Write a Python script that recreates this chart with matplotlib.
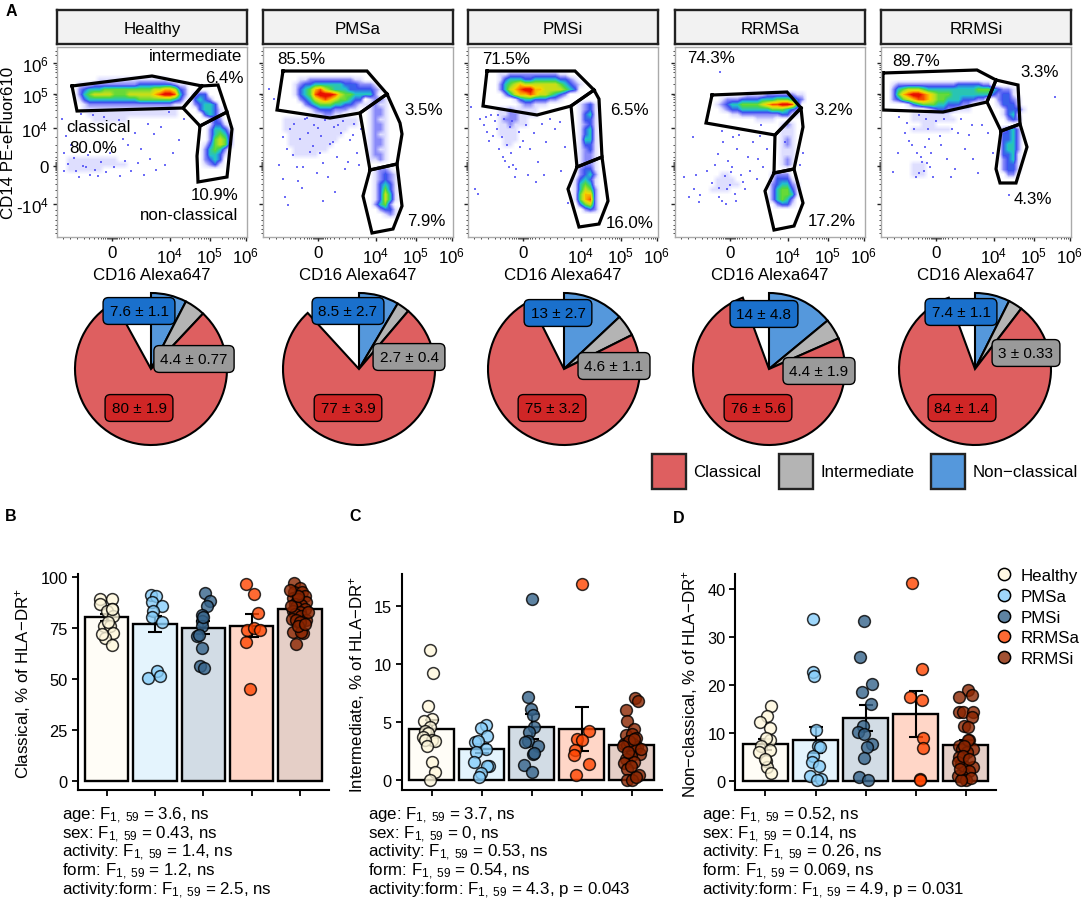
import numpy as np
import matplotlib
matplotlib.use('Agg')
import matplotlib.pyplot as plt
from matplotlib.colors import LinearSegmentedColormap
from matplotlib.lines import Line2D
from matplotlib.patches import Rectangle

plt.rcParams['font.family'] = 'Liberation Sans'
plt.rcParams['mathtext.fontset'] = 'custom'
plt.rcParams['mathtext.rm'] = 'Liberation Sans'
plt.rcParams['mathtext.it'] = 'Liberation Sans'
plt.rcParams['mathtext.bf'] = 'Liberation Sans:bold'
plt.rcParams['mathtext.default'] = 'regular'

W, H = 1084, 904
FS = 12.2

groups = ['Healthy', 'PMSa', 'PMSi', 'RRMSa', 'RRMSi']
group_colors = ['#FFF8DC', '#87CEFA', '#36648B', '#FF4500', '#8B2500']

# flow panels, all in display channels (0-190 on both axes)
x_major = [55, 113, 153, 189]
x_major_labels = ['0', '$10^4$', '$10^5$', '$10^6$']
y_major = [33, 71, 109, 143, 174]
y_major_labels = ['-$10^4$', '0', '$10^4$', '$10^5$', '$10^6$']
x_minor = [6, 13, 20, 27, 32, 37, 41, 44, 46, 48, 50, 51, 52, 53, 54, 56, 57, 58, 59, 60, 62, 64, 67,
           71, 76, 82, 89, 96, 105, 125, 132, 137, 141, 144, 147, 149, 151, 165, 171, 176, 180, 183, 185, 187]
y_minor = [4, 8, 12, 17, 22, 27, 40, 47, 53, 58, 62, 65, 67, 68, 69, 70, 72, 73, 74, 75, 77, 80, 85,
           92, 100, 120, 127, 132, 135, 138, 140, 142, 153, 160, 165, 168, 170, 172, 182, 186]

classical_gates = [
    [(15, 151), (95, 161), (145, 151), (126, 129), (20, 126)],
    [(20, 166), (104, 166), (124, 143), (97, 124), (67, 119), (14, 127)],
    [(19, 166), (107, 166), (126, 147), (103, 131), (69, 122), (15, 131)],
    [(37, 142), (112, 145), (126, 129), (100, 102), (31, 114)],
    [(2, 164), (96, 167), (115, 157), (106, 135), (62, 125), (2, 127)],
]
intermediate_gates = [
    [(145, 151), (161, 152), (170, 125), (143, 111), (126, 129)],
    [(124, 143), (137, 114), (139, 103), (134, 73), (107, 67), (97, 124)],
    [(126, 147), (131, 138), (134, 80), (109, 70), (103, 131)],
    [(126, 129), (128, 110), (119, 68), (99, 64), (100, 102)],
    [(115, 157), (137, 152), (139, 113), (120, 106), (106, 135)],
]
nonclassical_gates = [
    [(143, 111), (170, 125), (175, 108), (170, 60), (141, 55), (140, 81)],
    [(107, 67), (134, 73), (139, 31), (130, 8), (109, 4), (100, 41)],
    [(109, 70), (134, 80), (140, 36), (131, 13), (111, 10), (100, 48)],
    [(99, 64), (119, 68), (128, 34), (119, 11), (99, 7), (90, 46)],
    [(120, 106), (139, 113), (146, 90), (135, 54), (119, 54), (115, 68)],
]

# density: (y channel, first x channel, one level digit per 5 channels)
healthy_density = [
    (155, 40, '11111111111111'),
    (150, 20, '1112222222223333333211'), (145, 20, '2344455555555556677632'),
    (140, 20, '2456666555666667899842'), (135, 20, '1344444444445555555431'),
    (130, 20, '0122222222222222222110'),
    (125, 25, '1111111111111111111'), (120, 30, '111111111111111111'), (115, 35, '1111111'),
    (75, 10, '1111111111'), (70, 10, '111111111111'), (65, 10, '1111111'),
    (140, 135, '233'), (135, 135, '3432'), (130, 135, '23443'), (125, 140, '34431'),
    (120, 145, '3431'), (115, 150, '132'),
    (110, 150, '1331'), (105, 150, '24431'), (100, 150, '24542'), (95, 150, '25652'),
    (90, 145, '135652'), (85, 145, '24542'), (80, 145, '24431'), (75, 145, '2343'), (70, 145, '1231'),
]
pmsa_density = [
    (155, 35, '1122222222211'), (150, 30, '12334444443332221'), (145, 30, '134578654443333321'),
    (140, 30, '13458999865544442'), (135, 35, '2346787655433'), (130, 40, '2345554433211'),
    (125, 45, '1233322211'), (120, 50, '112211'),
    (115, 20, '111111111111111'), (110, 20, '111111111111111'), (105, 20, '1111111111111'),
    (100, 25, '11111111111'), (95, 25, '1111111111'), (90, 25, '111111111'), (85, 30, '1111111'), (80, 30, '11111'),
    (135, 105, '1221'), (130, 105, '1211'), (125, 105, '1221'), (120, 105, '1221'), (115, 105, '1211'),
    (110, 105, '1221'), (105, 105, '1221'), (100, 105, '1211'), (95, 105, '1221'), (90, 105, '1221'),
    (85, 105, '1211'), (80, 105, '1221'), (75, 105, '1121'),
    (65, 110, '1221'), (60, 110, '12321'), (55, 110, '12321'), (50, 110, '13431'), (45, 110, '13531'),
    (40, 110, '13641'), (35, 110, '13641'), (30, 110, '2452'), (25, 115, '2331'), (20, 120, '121'),
]
pmsi_density = [
    (160, 30, '11222222222211'), (155, 30, '1344433444443321'), (150, 30, '24567666666654321'),
    (145, 30, '2467899776666543'), (140, 35, '2467787665432'), (135, 45, '1344333221'), (130, 50, '122111'),
    (125, 30, '11211111'), (120, 30, '11221111'), (115, 30, '122211'), (110, 30, '112111'),
    (105, 30, '1111'), (100, 30, '1111'), (95, 35, '111'), (90, 35, '11'),
    (130, 110, '1231'), (125, 110, '1231'), (120, 110, '1341'), (115, 110, '1331'), (110, 110, '1231'),
    (105, 110, '1341'), (100, 110, '1341'), (95, 110, '1441'), (90, 110, '1331'), (85, 110, '1231'),
    (80, 110, '1221'), (75, 110, '1221'),
    (70, 110, '1221'), (65, 110, '2331'), (60, 110, '2342'), (55, 105, '13431'), (50, 105, '14541'),
    (45, 105, '14652'), (40, 105, '15772'), (35, 105, '15782'), (30, 110, '3562'), (25, 115, '232'),
]
rrmsa_density = [
    (140, 70, '111122222211'), (135, 45, '12223333444555432'), (130, 40, '12344555567889984'),
    (125, 45, '1233444444555432'), (120, 55, '11222222223311'), (115, 80, '1111'),
    (60, 45, '11'), (55, 40, '1111'), (50, 40, '11111'), (45, 35, '1111'),
    (110, 105, '121'), (105, 105, '111'), (100, 105, '111'), (95, 105, '121'), (90, 105, '121'),
    (85, 105, '111'), (80, 105, '111'), (75, 105, '121'), (70, 105, '121'),
    (60, 95, '1222'), (55, 95, '13331'), (50, 95, '234421'), (45, 95, '245531'), (40, 95, '245541'),
    (35, 95, '24542'), (30, 100, '2331'),
]
rrmsi_density = [
    (150, 10, '12222222222223333322'), (145, 10, '2456665444444444455543'),
    (140, 10, '257899876555444444443'), (135, 10, '2356788765544433322'), (130, 25, '1345554433322'),
    (125, 45, '123322111'), (120, 30, '11111111'), (115, 30, '111111111'), (110, 40, '111'), (105, 30, '11111111'),
    (70, 30, '111'), (65, 30, '111'), (60, 30, '111'),
    (145, 115, '1221'), (140, 115, '2331'), (135, 115, '23321'), (130, 115, '13331'), (125, 120, '13331'),
    (120, 120, '1341'), (115, 125, '232'),
    (105, 120, '2342'), (100, 120, '3342'), (95, 120, '3342'), (90, 120, '3442'), (85, 120, '3442'),
    (80, 120, '3341'), (75, 120, '2341'), (70, 120, '2331'), (65, 120, '2331'), (60, 125, '22'),
]
flow_density = [healthy_density, pmsa_density, pmsi_density, rrmsa_density, rrmsi_density]

# stray events outside the main populations
healthy_dots_x = [5, 9, 7, 14, 11, 19, 17, 24, 29, 33, 26, 38, 44, 41, 49, 57, 53, 63, 68, 74, 71, 81, 87, 84, 93, 99, 97, 108, 104, 116, 122, 127, 36, 47, 62, 78, 91, 22, 31, 66, 112, 7]
healthy_dots_y = [118, 101, 84, 92, 73, 66, 79, 123, 70, 62, 71, 67, 75, 61, 65, 70, 84, 61, 76, 66, 92, 74, 62, 88, 78, 67, 103, 72, 110, 84, 97, 118, 122, 120, 117, 104, 113, 60, 82, 98, 125, 66]
pmsa_dots_x = [6, 11, 16, 20, 22, 27, 24, 31, 34, 37, 42, 39, 47, 51, 54, 58, 62, 60, 67, 71, 74, 78, 82, 80, 87, 91, 94, 98, 45, 50, 65, 70, 85, 30, 55, 40, 72, 25, 90, 35, 60, 44, 75, 20, 57, 96]
pmsa_dots_y = [148, 138, 72, 58, 40, 108, 88, 113, 70, 98, 118, 49, 85, 112, 64, 101, 117, 74, 93, 110, 80, 104, 68, 116, 97, 113, 84, 108, 104, 91, 60, 95, 75, 82, 109, 70, 45, 32, 102, 56, 36, 119, 112, 100, 84, 72]
pmsi_dots_x = [3, 7, 12, 16, 19, 23, 21, 27, 31, 29, 34, 36, 39, 37, 42, 45, 43, 48, 51, 55, 58, 62, 66, 70, 74, 78, 82, 87, 93, 97, 100, 47, 41, 35, 25, 10, 60, 68, 92, 76, 52, 18, 30, 44]
pmsi_dots_y = [130, 48, 118, 112, 105, 122, 96, 116, 88, 108, 100, 118, 92, 76, 110, 72, 84, 68, 105, 96, 112, 88, 104, 75, 113, 95, 118, 108, 66, 90, 34, 60, 70, 80, 101, 43, 62, 55, 115, 62, 90, 120, 122, 116]
rrmsa_dots_x = [9, 14, 19, 24, 21, 25, 32, 37, 40, 44, 47, 43, 50, 53, 48, 55, 57, 60, 62, 66, 64, 70, 73, 78, 82, 85, 88, 92, 96, 45, 47, 58, 61, 75, 83, 44, 52, 68, 51, 56, 18, 86, 110, 125, 128]
rrmsa_dots_y = [60, 40, 48, 35, 62, 42, 66, 54, 72, 49, 36, 83, 61, 76, 95, 52, 70, 43, 88, 62, 102, 48, 80, 95, 58, 101, 70, 88, 56, 165, 106, 100, 36, 66, 78, 40, 48, 55, 33, 65, 100, 112, 95, 72, 84]
rrmsi_dots_x = [12, 17, 18, 24, 26, 31, 33, 36, 38, 41, 44, 43, 47, 49, 52, 55, 59, 63, 66, 71, 74, 77, 80, 84, 88, 92, 97, 101, 35, 40, 46, 48, 38, 50, 60, 91, 107, 112, 174, 128, 45, 28, 70]
rrmsi_dots_y = [65, 84, 120, 104, 114, 92, 108, 84, 122, 75, 90, 66, 108, 70, 60, 116, 101, 118, 78, 108, 68, 104, 118, 88, 102, 78, 64, 112, 60, 80, 74, 98, 64, 84, 92, 112, 104, 84, 140, 42, 118, 96, 60]
flow_dots = [(healthy_dots_x, healthy_dots_y), (pmsa_dots_x, pmsa_dots_y), (pmsi_dots_x, pmsi_dots_y),
             (rrmsa_dots_x, rrmsa_dots_y), (rrmsi_dots_x, rrmsi_dots_y)]

flow_texts = [
    [('intermediate', 139, 182), ('6.4%', 167, 160), ('10.9%', 158, 43), ('non-classical', 132, 22),
     ('classical', 41, 111), ('80.0%', 36, 90)],
    [('85.5%', 38, 179), ('3.5%', 161, 128), ('7.9%', 163, 17)],
    [('71.5%', 38, 179), ('6.5%', 161, 128), ('16.0%', 162, 14)],
    [('74.3%', 36, 180), ('3.2%', 159, 128), ('17.2%', 157, 17)],
    [('89.7%', 35, 177), ('3.3%', 159, 166), ('4.3%', 152, 38)],
]

# pies
classical_mean = [80, 77, 75, 76, 84]
intermediate_mean = [4.4, 2.7, 4.6, 4.4, 3]
nonclassical_mean = [7.6, 8.5, 13, 14, 7.4]
classical_se = [1.9, 3.9, 3.2, 5.6, 1.4]
intermediate_se = [0.77, 0.4, 1.1, 1.9, 0.33]
nonclassical_se = [1.1, 2.7, 2.7, 4.8, 1.1]
classical_labels = ['80 ± 1.9', '77 ± 3.9', '75 ± 3.2', '76 ± 5.6', '84 ± 1.4']
intermediate_labels = ['4.4 ± 0.77', '2.7 ± 0.4', '4.6 ± 1.1', '4.4 ± 1.9', '3 ± 0.33']
nonclassical_labels = ['7.6 ± 1.1', '8.5 ± 2.7', '13 ± 2.7', '14 ± 4.8', '7.4 ± 1.1']

# points on the bars: value and horizontal offset from the group centre
b_values = [
    [89, 89, 86.6, 84.2, 83, 80.6, 76, 75.7, 72.2, 70, 66.5, 84, 78, 72],
    [91, 90.7, 87.4, 85.5, 83, 80, 77.6, 50.3, 53.6, 51.1],
    [92, 88, 85.5, 81, 78.3, 75.7, 71, 71.4, 65, 56.4, 55, 80],
    [96.4, 91.5, 82.2, 74, 74.7, 73.9, 67.8, 45],
    [96.9, 94.3, 92.3, 92.6, 90.7, 89.5, 89, 87.4, 86.6, 86.1, 85, 83.3, 84.2, 82.5, 81.7, 80.6, 79.2, 78.9,
     78.9, 77.9, 72.7, 72.4, 72.7, 67, 76, 76.8, 90.7, 93.6, 85.8, 82.5],
]
b_offsets = [
    [-0.13, 0.10, -0.13, 0.11, 0, 0.14, -0.06, 0.06, 0.14, -0.04, 0.11, 0.1, 0.03, -0.1],
    [-0.08, 0.03, -0.07, 0.15, -0.05, -0.07, 0.15, -0.14, 0.04, 0.10],
    [0.03, 0.14, 0.07, -0.02, -0.03, -0.02, -0.14, -0.09, -0.03, -0.07, 0.02, -0.01],
    [-0.12, 0.05, 0.14, -0.10, 0.05, 0.17, -0.12, -0.03],
    [-0.13, 0, -0.13, 0.04, 0.10, -0.14, -0.04, 0.13, -0.11, 0.03, -0.08, -0.14, 0.10, 0, -0.11, 0.03, -0.16,
     -0.08, 0.13, 0, -0.14, 0.06, 0.03, -0.08, -0.04, 0.10, -0.05, -0.21, -0.18, 0.16],
]
c_values = [
    [11.26, 9.28, 6.35, 5.26, 5.06, 4.6, 4.2, 4.1, 3.68, 3.48, 3.39, 3.48, 2.9, 1.58, 0.66, 0],
    [4.74, 4.51, 3.76, 3.25, 3.39, 2.67, 2.44, 1.52, 1.24, 1.24, 0.6, 0.23],
    [15.66, 7.18, 6.12, 5.63, 4.6, 4.11, 3.39, 3.25, 2.96, 2.24, 2.3, 1.32, 0.66],
    [16.95, 4.2, 3.53, 3.48, 2.61, 2.16, 1.38, 0.43],
    [7.07, 6.81, 6.03, 5.11, 4.4, 3.88, 3.97, 3.6, 3.1, 3.05, 3.1, 2.82, 2.53, 2.67, 2.24, 2.1, 1.81, 1.58,
     1.44, 0.95, 0.43, 0, 0, 0.23, 2.67, 3.39, 3.53, 2.96, 1.24, 2.39],
]
c_offsets = [
    [-0.04, 0.03, -0.08, 0, -0.15, -0.03, -0.13, -0.07, -0.18, 0, 0.07, -0.13, -0.10, 0, 0.07, -0.03],
    [0.09, -0.02, 0.10, -0.13, -0.07, 0.08, -0.11, -0.15, 0.15, 0.11, -0.02, -0.05],
    [0, -0.07, -0.01, 0.02, 0.05, -0.06, -0.08, -0.13, 0.12, 0.03, 0.05, -0.15, 0],
    [0, 0.15, -0.09, 0, -0.13, -0.15, 0.14, -0.11],
    [0.07, 0.13, -0.11, -0.10, 0.05, -0.12, 0.01, 0.09, -0.15, -0.09, 0.03, 0.11, 0, 0.07, 0.16, -0.02, -0.12,
     0.05, -0.15, -0.09, 0.15, -0.10, 0, 0.08, 0.18, -0.05, 0.05, -0.18, -0.02, -0.07],
]
d_values = [
    [15.67, 13.58, 12.33, 11.07, 8.56, 8.84, 7.31, 6.48, 5.92, 4.18, 2.79, 1.6, 4.53],
    [33.8, 22.6, 21.9, 10.5, 7.2, 7, 5.1, 4, 3.1, 1, 0.35, 0.14],
    [33.4, 25.8, 20.2, 18.5, 15.9, 11.5, 10.1, 9.7, 7.7, 7, 4.8, 0.84, 0.2],
    [41.2, 23.3, 17.4, 16.9, 9, 6.8, 0.35, 0.2],
    [19, 17.9, 17.5, 14.3, 14.3, 14.3, 13.2, 11.4, 11.1, 8.4, 7.2, 6.6, 6.6, 5.9, 4.9, 3.5, 3.1, 2.8, 2.1, 1,
     0.7, 0.14, 0.5, 0.14, 8.4, 7.3, 3.8, 5.2, 4.5, 2.4],
]
d_offsets = [
    [0.11, 0.03, -0.11, 0.09, 0.09, 0.01, -0.09, 0.09, -0.13, 0.01, 0.04, 0.11, 0],
    [-0.05, -0.06, -0.03, 0.01, 0.04, 0.09, -0.05, -0.07, 0.07, -0.11, 0.11, 0.03],
    [-0.03, -0.11, 0.13, -0.08, 0.10, -0.06, -0.15, -0.03, 0.13, 0.03, -0.03, -0.13, 0.05],
    [-0.07, 0.13, -0.11, 0.13, 0.15, 0.15, 0.09, 0.09],
    [0.05, 0.13, -0.13, -0.14, -0.05, 0.14, 0.13, -0.04, 0.04, 0.07, -0.14, 0.14, -0.07, 0.02, -0.13, -0.09,
     -0.04, 0.14, 0.07, -0.16, -0.05, 0.01, 0.11, -0.09, 0.04, -0.03, -0.16, -0.06, 0.07, -0.11],
]

b_stats = ['age: F$_{1,\\ 59}$ = 3.6, ns', 'sex: F$_{1,\\ 59}$ = 0.43, ns', 'activity: F$_{1,\\ 59}$ = 1.4, ns',
           'form: F$_{1,\\ 59}$ = 1.2, ns', 'activity:form: F$_{1,\\ 59}$ = 2.5, ns']
c_stats = ['age: F$_{1,\\ 59}$ = 3.7, ns', 'sex: F$_{1,\\ 59}$ = 0, ns', 'activity: F$_{1,\\ 59}$ = 0.53, ns',
           'form: F$_{1,\\ 59}$ = 0.54, ns', 'activity:form: F$_{1,\\ 59}$ = 4.3, p = 0.043']
d_stats = ['age: F$_{1,\\ 59}$ = 0.52, ns', 'sex: F$_{1,\\ 59}$ = 0.14, ns', 'activity: F$_{1,\\ 59}$ = 0.26, ns',
           'form: F$_{1,\\ 59}$ = 0.069, ns', 'activity:form: F$_{1,\\ 59}$ = 4.9, p = 0.031']

fig = plt.figure(figsize=(W / 100, H / 100), dpi=100)


def px_axes(left, top, right, bottom):
    return fig.add_axes([left / W, 1 - bottom / H, (right - left) / W, (bottom - top) / H])


flow_cmap = LinearSegmentedColormap.from_list('flow', ['#FFFFFF', '#E0E0FF', '#9090FA', '#3C50F0', '#20C0D0',
                                                       '#50D840', '#B8E020', '#F5D800', '#FF7A00', '#E81000'])
flow_left = [57, 263, 468, 675, 881]

for i, name in enumerate(groups):
    left = flow_left[i]
    strip = px_axes(left, 11, left + 190, 45)
    strip.set_facecolor('#F2F2F2')
    strip.set_xticks([])
    strip.set_yticks([])
    for s in strip.spines.values():
        s.set_linewidth(1.7)
        s.set_color('#222222')
    strip.text(0.5, 0.47, name, ha='center', va='center', fontsize=FS, transform=strip.transAxes)

    ax = px_axes(left, 48, left + 190, 238)
    grid = np.zeros((38, 38))
    for y, x0, digits in flow_density[i]:
        for j, d in enumerate(digits):
            grid[y // 5, x0 // 5 + j] = max(grid[y // 5, x0 // 5 + j], int(d))
    ax.imshow(grid, origin='lower', extent=(0, 190, 0, 190), cmap=flow_cmap, vmin=0, vmax=8.6,
              interpolation='bilinear', aspect='auto')
    ax.scatter(flow_dots[i][0], flow_dots[i][1], s=1.8, marker='s', color='#4848F5', linewidths=0, alpha=0.8)
    for gate in (classical_gates[i], intermediate_gates[i], nonclassical_gates[i]):
        xs = [p[0] for p in gate] + [gate[0][0]]
        ys = [p[1] for p in gate] + [gate[0][1]]
        ax.plot(xs, ys, color='black', lw=2.3, solid_joinstyle='miter', clip_on=False)
    for label, tx, ty in flow_texts[i]:
        ax.text(tx, ty, label, ha='center', va='center', fontsize=FS, clip_on=False)
    ax.set_xlim(0, 190)
    ax.set_ylim(0, 190)
    for s in ax.spines.values():
        s.set_color('#AAAAAA')
        s.set_linewidth(1)
    ax.set_xticks(x_major)
    ax.set_xticklabels(x_major_labels, fontsize=FS)
    ax.set_xticks(x_minor, minor=True)
    ax.set_yticks(y_major)
    ax.set_yticks(y_minor, minor=True)
    ax.tick_params(axis='both', which='major', length=3, width=1, color='#222222', pad=3)
    ax.tick_params(axis='both', which='minor', length=1.6, width=0.7, color='#444444')
    if i == 0:
        ax.set_yticklabels(y_major_labels, fontsize=FS)
    else:
        ax.set_yticklabels([])
    ax.set_xlabel('CD16 Alexa647', fontsize=FS, labelpad=1)

    # pie
    cx = [151, 359, 564, 769, 975][i]
    pie_ax = px_axes(cx - 78, 370 - 78, cx + 78, 370 + 78)
    pie_values = [nonclassical_mean[i] / 100, intermediate_mean[i] / 100, classical_mean[i] / 100]
    pie_ax.pie(pie_values, colors=['#5598DC', '#B4B4B4', '#DE5F60'], startangle=90, counterclock=False,
               normalize=False, radius=1, wedgeprops={'edgecolor': 'black', 'linewidth': 1.5})
    pie_ax.set_xlim(-78 / 76, 78 / 76)
    pie_ax.set_ylim(-78 / 76, 78 / 76)

# bars
panels = [
    ('Classical, % of HLA−DR$^{+}$', 77.7, 329, b_values, b_offsets, classical_mean, classical_se, (-4.4, 101.3),
     [0, 25, 50, 75, 100], 23, b_stats, 61.7),
    ('Intermediate, % of HLA−DR$^{+}$', 401.7, 662, c_values, c_offsets, intermediate_mean, intermediate_se,
     (-0.84, 17.8), [0, 5, 10, 15], 357, c_stats, 367.7),
    ('Non−classical, % of HLA−DR$^{+}$', 735.3, 996, d_values, d_offsets, nonclassical_mean, nonclassical_se,
     (-1.88, 43.1), [0, 10, 20, 30, 40], 690, d_stats, 701.7),
]
positions = np.arange(1, 6)

overlay = fig.add_axes([0, 0, 1, 1], zorder=20)
overlay.set_xlim(0, W)
overlay.set_ylim(H, 0)
overlay.axis('off')

for ylabel, left, right, values, offsets, means, ses, ylim, yticks, label_x, stats, stats_x in panels:
    ax = px_axes(left, 575, right, 790.7)
    ax.bar(positions, means, width=0.9, color=[matplotlib.colors.to_rgba(c, 0.22) for c in group_colors],
           edgecolor='black', linewidth=1.7, zorder=2)
    ax.errorbar(positions, means, yerr=ses, fmt='none', ecolor='black', elinewidth=1.5, capsize=4.8,
                capthick=1.5, zorder=3)
    for k in range(5):
        ax.scatter(positions[k] + np.array(offsets[k]), values[k], s=72, color=group_colors[k], alpha=0.8,
                   edgecolors='black', linewidths=1.1, zorder=4, clip_on=False)
    ax.set_xlim(0.4, 5.6)
    ax.set_ylim(*ylim)
    ax.set_xticks(positions)
    ax.set_xticklabels([])
    ax.set_yticks(yticks)
    ax.tick_params(axis='both', length=4, width=1.3, labelsize=11.8, pad=3)
    ax.spines['top'].set_visible(False)
    ax.spines['right'].set_visible(False)
    ax.spines['left'].set_linewidth(1.5)
    ax.spines['bottom'].set_linewidth(1.5)
    ax.patch.set_alpha(0)
    overlay.text(label_x, 684, ylabel, rotation=90, ha='center', va='center', fontsize=FS)
    for n, line in enumerate(stats):
        overlay.text(stats_x, 815.7 + 18.7 * n, line, ha='left', va='center', fontsize=FS)

# pie value boxes sit above everything
blue_pos = [(139, 312), (348, 312), (558, 314), (764, 315), (961, 313)]
gray_pos = [(194, 360), (409, 358), (614, 367), (819, 372), (1026, 354)]
red_pos = [(139, 409), (348, 409), (552, 409), (758, 409), (962, 409)]
for i in range(5):
    for pos, label, fc in ((blue_pos[i], nonclassical_labels[i], '#1A70CC'),
                           (gray_pos[i], intermediate_labels[i], '#9A9A9A'),
                           (red_pos[i], classical_labels[i], '#D02626')):
        overlay.text(pos[0], pos[1], label, ha='center', va='center', fontsize=11,
                     bbox={'boxstyle': 'round,pad=0.42,rounding_size=0.35', 'facecolor': fc,
                           'edgecolor': 'black', 'linewidth': 1})

# pie legend
swatch_x = [652, 779, 931]
swatch_text_x = [693, 820, 973]
swatch_labels = ['Classical', 'Intermediate', 'Non−classical']
swatch_colors = ['#DE5F60', '#B4B4B4', '#5598DC']
for sx, tx, label, col in zip(swatch_x, swatch_text_x, swatch_labels, swatch_colors):
    overlay.add_patch(Rectangle((sx, 455), 34, 35, facecolor=col, edgecolor='#222222', linewidth=1.7))
    overlay.text(tx, 473, label, ha='left', va='center', fontsize=FS)

overlay.text(8.5, 143, 'CD14 PE-eFluor610', rotation=90, ha='center', va='center', fontsize=FS)
for letter, lx, ly in (('A', 11, 11), ('B', 11, 517), ('C', 355, 517), ('D', 679, 519)):
    overlay.text(lx, ly, letter, ha='center', va='center', fontsize=11.5, fontweight='bold')

handles = [Line2D([], [], linestyle='none', marker='o', markersize=8.8, markerfacecolor=matplotlib.colors.to_rgba(c, 0.8),
                  markeredgecolor='black', markeredgewidth=1.1) for c in group_colors]
fig.legend(handles, groups, loc='upper left', bbox_to_anchor=(995.6 / W, 1 - 569 / H), frameon=False, fontsize=FS,
           handlelength=1, handletextpad=0.45, labelspacing=0.34, borderpad=0, borderaxespad=0)

fig.savefig('out.png', dpi=100)
